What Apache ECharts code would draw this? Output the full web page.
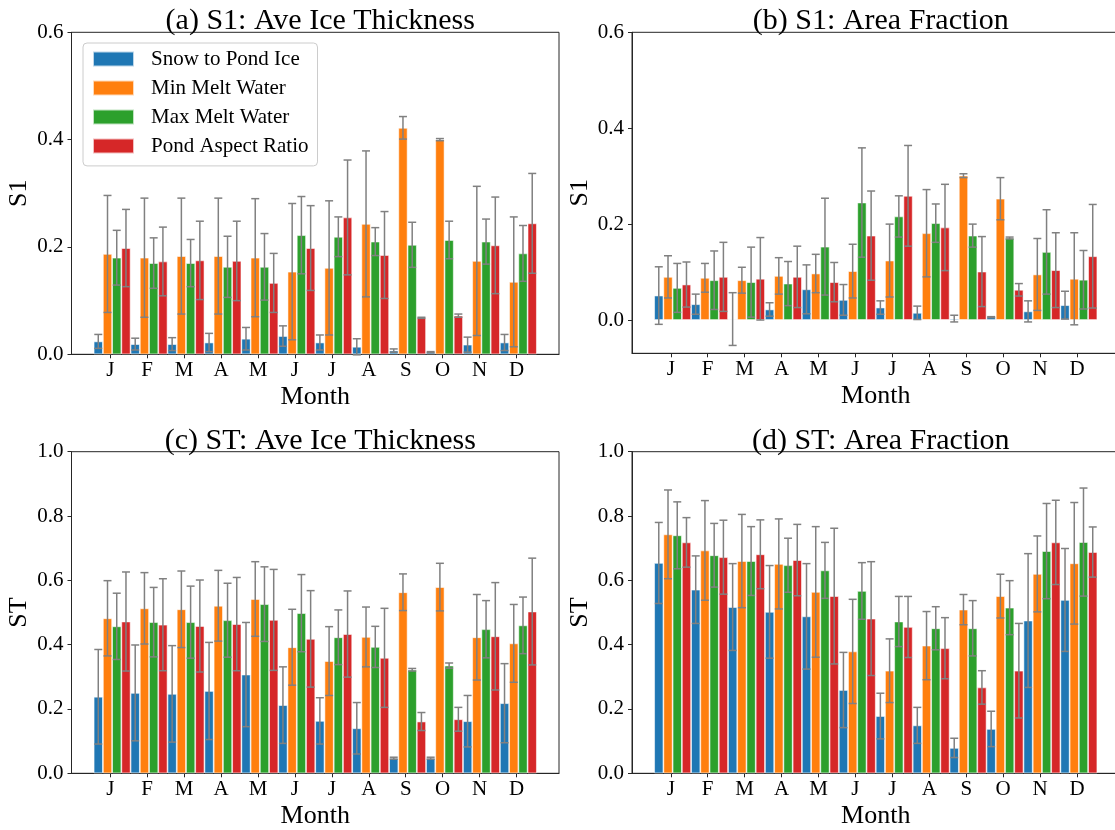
<!DOCTYPE html>
<html>
<head>
<meta charset="utf-8">
<script src="https://cdn.jsdelivr.net/npm/echarts@6/dist/echarts.min.js"></script>
<style>
  html, body { margin: 0; padding: 0; background: #fff; }
  #main { width: 1115px; height: 830px; }
</style>
</head>
<body>
<div id="main"></div>
<script>
var months = ['J', 'F', 'M', 'A', 'M', 'J', 'J', 'A', 'S', 'O', 'N', 'D'];
var seriesNames = ['Snow to Pond Ice', 'Min Melt Water', 'Max Melt Water', 'Pond Aspect Ratio'];

var ticksS1 = [0, 0.2, 0.4, 0.6];
var ticksST = [0, 0.2, 0.4, 0.6, 0.8, 1.0];

// (a) S1: Ave Ice Thickness  -- rows follow seriesNames
var aMean = [
    [0.024, 0.019, 0.019, 0.022, 0.029, 0.034, 0.022, 0.014, 0.007, 0.004, 0.018, 0.022],
    [0.187, 0.180, 0.183, 0.183, 0.180, 0.154, 0.161, 0.243, 0.422, 0.400, 0.174, 0.135],
    [0.180, 0.170, 0.170, 0.163, 0.163, 0.222, 0.219, 0.210, 0.204, 0.213, 0.210, 0.188],
    [0.198, 0.173, 0.175, 0.174, 0.133, 0.198, 0.255, 0.185, 0.068, 0.072, 0.203, 0.244]
];
var aErr = [
    [0.013, 0.011, 0.012, 0.017, 0.021, 0.019, 0.014, 0.015, 0.003, 0.001, 0.014, 0.015],
    [0.109, 0.111, 0.108, 0.108, 0.110, 0.127, 0.125, 0.136, 0.021, 0.002, 0.139, 0.121],
    [0.051, 0.047, 0.044, 0.057, 0.062, 0.072, 0.037, 0.026, 0.042, 0.035, 0.042, 0.052],
    [0.072, 0.064, 0.073, 0.074, 0.055, 0.079, 0.107, 0.081, 0.001, 0.003, 0.090, 0.093]
];

// (b) S1: Area Fraction
var bMean = [
    [0.051, 0.033, 0.002, 0.022, 0.064, 0.042, 0.026, 0.015, 0.003, 0.006, 0.018, 0.031],
    [0.090, 0.088, 0.083, 0.092, 0.097, 0.102, 0.124, 0.181, 0.301, 0.253, 0.095, 0.086],
    [0.067, 0.083, 0.079, 0.076, 0.153, 0.245, 0.216, 0.202, 0.176, 0.171, 0.142, 0.084],
    [0.074, 0.090, 0.086, 0.090, 0.079, 0.176, 0.259, 0.193, 0.101, 0.063, 0.104, 0.133]
];
var bErr = [
    [0.060, 0.021, 0.055, 0.014, 0.051, 0.032, 0.014, 0.014, 0.007, 0.001, 0.022, 0.029],
    [0.044, 0.030, 0.027, 0.038, 0.040, 0.056, 0.076, 0.091, 0.004, 0.044, 0.075, 0.096],
    [0.051, 0.061, 0.073, 0.046, 0.101, 0.114, 0.043, 0.040, 0.024, 0.002, 0.088, 0.061],
    [0.047, 0.072, 0.086, 0.064, 0.041, 0.093, 0.105, 0.090, 0.073, 0.013, 0.078, 0.108]
];

// (c) ST: Ave Ice Thickness
var cMean = [
    [0.238, 0.250, 0.247, 0.256, 0.307, 0.212, 0.163, 0.140, 0.047, 0.047, 0.162, 0.218],
    [0.482, 0.513, 0.510, 0.521, 0.542, 0.392, 0.349, 0.424, 0.563, 0.579, 0.423, 0.404],
    [0.457, 0.470, 0.470, 0.476, 0.526, 0.498, 0.423, 0.393, 0.322, 0.335, 0.448, 0.460],
    [0.472, 0.462, 0.458, 0.464, 0.477, 0.418, 0.433, 0.359, 0.161, 0.168, 0.426, 0.503]
];
var cErr = [
    [0.147, 0.149, 0.150, 0.151, 0.162, 0.119, 0.072, 0.080, 0.003, 0.003, 0.080, 0.123],
    [0.117, 0.111, 0.119, 0.110, 0.116, 0.118, 0.107, 0.093, 0.057, 0.074, 0.133, 0.121],
    [0.103, 0.108, 0.112, 0.115, 0.116, 0.120, 0.085, 0.064, 0.004, 0.008, 0.089, 0.088],
    [0.154, 0.143, 0.143, 0.145, 0.157, 0.150, 0.134, 0.154, 0.028, 0.037, 0.167, 0.166]
];

// (d) ST: Area Fraction
var dMean = [
    [0.654, 0.571, 0.517, 0.502, 0.488, 0.259, 0.178, 0.149, 0.079, 0.138, 0.475, 0.539],
    [0.743, 0.693, 0.660, 0.651, 0.564, 0.379, 0.319, 0.397, 0.509, 0.551, 0.620, 0.653],
    [0.740, 0.678, 0.660, 0.647, 0.631, 0.567, 0.472, 0.451, 0.451, 0.515, 0.691, 0.719],
    [0.718, 0.672, 0.681, 0.663, 0.551, 0.481, 0.455, 0.389, 0.267, 0.319, 0.718, 0.688]
];
var dErr = [
    [0.126, 0.105, 0.135, 0.144, 0.164, 0.117, 0.071, 0.056, 0.030, 0.055, 0.208, 0.160],
    [0.138, 0.155, 0.145, 0.140, 0.203, 0.162, 0.099, 0.106, 0.047, 0.068, 0.118, 0.189],
    [0.104, 0.099, 0.107, 0.084, 0.087, 0.088, 0.078, 0.067, 0.086, 0.084, 0.148, 0.168],
    [0.077, 0.115, 0.107, 0.111, 0.211, 0.177, 0.095, 0.095, 0.052, 0.147, 0.131, 0.078]
];

var colors = ['#1f77b4', '#ff7f0e', '#2ca02c', '#d62728'];
var font = 'Liberation Serif';
var ink = '#000';
var spine = '#262626';
var errColor = '#808080';

// x range of each panel, the bar group sits a little right of its tick
var xMin = -1.05, xMax = 12.15;
var groupShift = 0.05;
var barUnit = 0.25;

var panels = [
    { title: '(a) S1: Ave Ice Thickness', yName: 'S1', mean: aMean, err: aErr, ymin: 0, ymax: 0.6, ticks: ticksS1,
      left: 71.5, top: 32.3, height: 322 },
    { title: '(b) S1: Area Fraction', yName: 'S1', mean: bMean, err: bErr, ymin: -0.0694, ymax: 0.6, ticks: ticksS1,
      left: 632, top: 32.3, height: 321 },
    { title: '(c) ST: Ave Ice Thickness', yName: 'ST', mean: cMean, err: cErr, ymin: 0, ymax: 1.0, ticks: ticksST,
      left: 71.5, top: 451.7, height: 321.6 },
    { title: '(d) ST: Area Fraction', yName: 'ST', mean: dMean, err: dErr, ymin: 0, ymax: 1.0, ticks: ticksST,
      left: 632, top: 451.7, height: 321.6 }
];
var panelWidth = 487.5;
var barPx = barUnit * panelWidth / (xMax - xMin);
var monthPos = months.map(function (m, k) { return k; });

var grids = [], xAxes = [], yAxes = [], titles = [], series = [];

panels.forEach(function (p, pi) {
    grids.push({
        left: p.left, top: p.top, width: panelWidth, height: p.height,
        outerBoundsMode: 'none',
        containLabel: false,
        show: true, borderColor: spine, borderWidth: 1, backgroundColor: 'transparent'
    });

    titles.push({
        text: p.title,
        left: p.left + panelWidth / 2,
        top: p.top - 31,
        textAlign: 'center',
        textStyle: { fontFamily: font, fontSize: 30, fontWeight: 'normal', color: ink }
    });

    xAxes.push({
        gridIndex: pi, type: 'value', min: xMin, max: xMax,
        axisLine: { onZero: false, lineStyle: { color: spine, width: 1 } },
        axisTick: { customValues: monthPos, length: 4, lineStyle: { color: spine, width: 1 } },
        axisLabel: {
            customValues: monthPos, margin: 6, fontFamily: font, fontSize: 21, color: ink,
            formatter: function (v) { return months[Math.round(v)]; }
        },
        splitLine: { show: false },
        name: 'Month', nameLocation: 'middle', nameGap: 30,
        nameTextStyle: { fontFamily: font, fontSize: 26, color: ink }
    });

    yAxes.push({
        gridIndex: pi, type: 'value', min: p.ymin, max: p.ymax,
        axisLine: { show: true, onZero: false, lineStyle: { color: spine, width: 1 } },
        axisTick: { show: true, customValues: p.ticks, length: 4, lineStyle: { color: spine, width: 1 } },
        axisLabel: {
            customValues: p.ticks, margin: 8, fontFamily: font, fontSize: 21, color: ink,
            formatter: function (v) { return v.toFixed(1); }
        },
        splitLine: { show: false },
        name: p.yName, nameLocation: 'middle', nameGap: 39, nameRotate: 90,
        nameTextStyle: { fontFamily: font, fontSize: 26, color: ink }
    });

    // bars: each series at its own x offset, overlapping layout so echarts adds no extra shift
    p.mean.forEach(function (vals, si) {
        var off = groupShift + (si - 1.5) * barUnit;
        series.push({
            type: 'bar',
            name: seriesNames[si],
            xAxisIndex: pi, yAxisIndex: pi,
            barWidth: barPx,
            barGap: '-100%',
            itemStyle: { color: colors[si], borderColor: 'rgba(255,255,255,0.7)', borderWidth: 0.8 },
            emphasis: { disabled: true },
            data: vals.map(function (v, k) { return [k + off, v]; })
        });
    });

    p.mean.forEach(function (vals, si) {
        var off = groupShift + (si - 1.5) * barUnit;
        series.push({
            type: 'custom',
            name: 'err-' + pi + '-' + si,
            xAxisIndex: pi, yAxisIndex: pi,
            z: 5,
            silent: true,
            encode: { x: 0, y: [1, 2] },
            data: vals.map(function (v, k) {
                var e = p.err[si][k];
                return [k + off, v - e, v + e];
            }),
            renderItem: function (params, api) {
                var x = api.value(0);
                var lo = api.coord([x, api.value(1)]);
                var hi = api.coord([x, api.value(2)]);
                var cap = 4;
                var st = { stroke: errColor, lineWidth: 1.5 };
                return {
                    type: 'group',
                    children: [
                        { type: 'line', shape: { x1: lo[0], y1: lo[1], x2: hi[0], y2: hi[1] }, style: st },
                        { type: 'line', shape: { x1: lo[0] - cap, y1: lo[1], x2: lo[0] + cap, y2: lo[1] }, style: st },
                        { type: 'line', shape: { x1: hi[0] - cap, y1: hi[1], x2: hi[0] + cap, y2: hi[1] }, style: st }
                    ]
                };
            }
        });
    });
});

var chart = echarts.init(document.getElementById('main'));

var option = {
    backgroundColor: '#fff',
    animation: false,
    title: titles,
    legend: {
        data: seriesNames,
        orient: 'vertical',
        left: 83,
        top: 43,
        icon: 'rect',
        itemWidth: 41,
        itemHeight: 15,
        itemGap: 8,
        padding: [5.5, 9, 9.4, 9],
        backgroundColor: 'rgba(255,255,255,0.8)',
        borderColor: '#cccccc',
        borderWidth: 1,
        borderRadius: 4,
        selectedMode: false,
        textStyle: { fontFamily: font, fontSize: 21, lineHeight: 20, color: ink, padding: [0, 0, 0, 12] }
    },
    grid: grids,
    xAxis: xAxes,
    yAxis: yAxes,
    series: series
};

chart.setOption(option);
</script>
</body>
</html>
